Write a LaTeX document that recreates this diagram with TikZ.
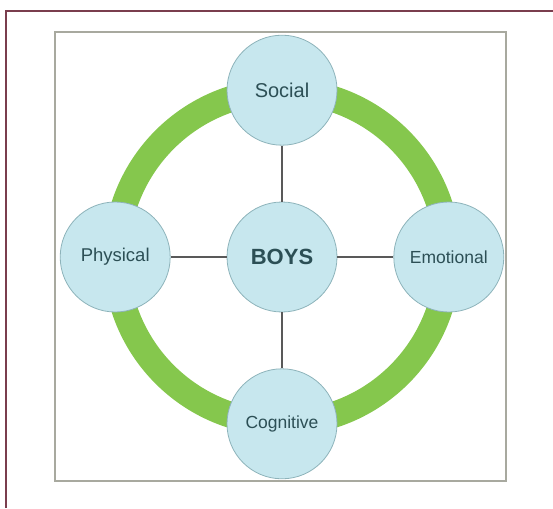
\documentclass[tikz,border=0pt]{standalone}
\usepackage{fontspec}
\setmainfont{Liberation Sans}
\usepackage{xcolor}
\usepackage{tikz}
\usetikzlibrary{positioning}

\definecolor{ringgreen}{HTML}{85C74D}
\definecolor{bubble}{HTML}{C7E7EE}
\definecolor{bubbleedge}{HTML}{8DB3BA}
\definecolor{labeltext}{HTML}{2C4F55}
\definecolor{framered}{HTML}{7A3E4E}
\definecolor{boxgray}{HTML}{A8A99F}

\begin{document}
\begin{tikzpicture}[x=1pt,y=-1pt,
		area/.style={draw=bubbleedge,fill=bubble,line width=0.8pt,circle,minimum size=110pt,inner sep=0pt,text=labeltext,font=\fontsize{17.5}{20}\selectfont},
		spoke/.style={draw=black!65,line width=1.4pt}]
		\useasboundingbox (0,0) rectangle (553,508);
		
		\draw[framered,line width=1.2pt] (6,508)--(6,11)--(553,11);
		\draw[boxgray,line width=2pt] (55,32) rectangle (506,481);
		
		\coordinate (mid) at (282,257);
		\draw[ringgreen,line width=26pt] (mid) circle (166pt);
		
		\node[area,font=\fontsize{22}{26}\selectfont\bfseries] (boys) at (mid) {BOYS};
		
		\node[area,font=\fontsize{20}{24}\selectfont, above=56pt of boys] (social) {Social};
		\node[area, below=56pt of boys] (cognitive) {Cognitive};
		\node[area,font=\fontsize{18.5}{22}\selectfont, left=56pt of boys] (physical) {Physical};
		\node[area, right=56pt of boys] (emotional) {Emotional};
		
		\draw[spoke] (boys.north)--(social.south);
		\draw[spoke] (boys.south)--(cognitive.north);
		\draw[spoke] (boys.west)--(physical.east);
		\draw[spoke] (boys.east)--(emotional.west);
	\end{tikzpicture}
\end{document}
